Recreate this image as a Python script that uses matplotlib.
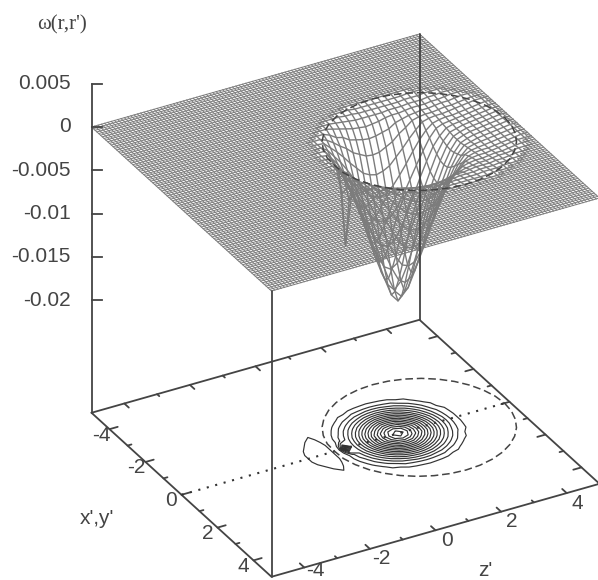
import numpy as np
import matplotlib
matplotlib.use('Agg')
import matplotlib.pyplot as plt

plt.rcParams['font.family'] = ['Liberation Sans', 'DejaVu Sans']

# axis ticks
w_ticks = [0.005, 0, -0.005, -0.01, -0.015, -0.02]
w_labels = ['0.005', '0', '-0.005', '-0.01', '-0.015', '-0.02']
x_ticks = [-4, -2, 0, 2, 4]
z_ticks = [-4, -2, 0, 2, 4]
minor_ticks = [-3, -1, 1, 3]

# mesh lines, -5..5 in both directions, every 0.1
grid_x = np.linspace(-5, 5, 101)
grid_z = np.linspace(-5, 5, 101)

# values every 0.2, in units of 1e-4, for x' >= 0 (mirrored for x' < 0)
well_x = [0, 0.2, 0.4, 0.6, 0.8, 1.0, 1.2, 1.4, 1.6, 1.8, 2.0, 2.2, 2.4]
well_z = np.linspace(-1.4, 4.8, 32)
well = [
    [0, 4, 7, 10, 11, 5, -6, -96, -35, -54, -76, -100, -125, -148, -168, -177, -168, -148, -125, -100, -76, -54, -35, -20, -10, -7, -5, -4, -3, -2, -1, 0],
    [0, 4, 7, 10, 11, 5, -4, -40, -34, -52, -74, -98, -122, -143, -160, -168, -160, -143, -122, -98, -74, -52, -34, -19, -10, -7, -5, -4, -3, -2, -1, 0],
    [0, 3, 6, 9, 10, 5, -2, -17, -30, -48, -67, -89, -110, -128, -143, -148, -143, -128, -110, -89, -67, -48, -30, -17, -9, -7, -5, -4, -3, -2, -1, 0],
    [0, 2, 4, 7, 9, 4, -1, -15, -25, -40, -57, -76, -94, -110, -122, -125, -122, -110, -94, -76, -57, -40, -25, -15, -8, -6, -5, -4, -3, -2, -1, 0],
    [0, 1, 2, 5, 7, 3, 0, -10, -19, -32, -46, -61, -76, -89, -98, -100, -98, -89, -76, -61, -46, -32, -19, -10, -7, -6, -5, -4, -3, -2, -1, 0],
    [0, 0, 1, 3, 5, 2, 0, -5, -14, -23, -34, -46, -57, -67, -74, -76, -74, -67, -57, -46, -34, -23, -14, -8, -6, -5, -5, -4, -3, -2, -1, 0],
    [0, 0, 0, 1, 2, 1, 0, -1, -8, -15, -23, -32, -40, -48, -52, -54, -52, -48, -40, -32, -23, -15, -8, -6, -5, -5, -4, -3, -2, -1, 0, 0],
    [0, 0, 0, 0, 0, 0, 0, 0, -3, -8, -14, -19, -26, -30, -34, -35, -34, -30, -26, -19, -14, -8, -6, -5, -5, -4, -3, -3, -2, -1, 0, 0],
    [0, 0, 0, 0, 0, 0, 0, 0, 0, -3, -8, -10, -15, -17, -19, -20, -19, -17, -15, -10, -8, -6, -5, -4, -4, -3, -2, -2, -1, 0, 0, 0],
    [0, 0, 0, 0, 0, 0, 0, 0, 0, 0, -2, -4, -6, -8, -9, -10, -9, -8, -6, -5, -5, -4, -3, -3, -3, -2, -2, -1, 0, 0, 0, 0],
    [0, 0, 0, 0, 0, 0, 0, 0, 0, 0, 0, -1, -2, -3, -4, -4, -4, -4, -4, -3, -3, -3, -2, -2, -2, -1, -1, 0, 0, 0, 0, 0],
    [0, 0, 0, 0, 0, 0, 0, 0, 0, 0, 0, 0, 0, -1, -1, -2, -2, -2, -2, -2, -2, -2, -1, -1, -1, 0, 0, 0, 0, 0, 0, 0],
    [0, 0, 0, 0, 0, 0, 0, 0, 0, 0, 0, 0, 0, 0, 0, -1, -1, -1, -1, -1, -1, -1, -1, 0, 0, 0, 0, 0, 0, 0, 0, 0],
]

# zero line of the surface (half of it, x' >= 0)
ring_z = [4.85, 4.81, 4.69, 4.50, 4.24, 3.92, 3.55, 3.14, 2.70, 2.25, 1.80, 1.36, 0.95, 0.58, 0.26, 0.0, -0.19, -0.31, -0.33]
ring_x = [0.0, 0.45, 0.89, 1.30, 1.67, 1.99, 2.25, 2.44, 2.56, 2.60, 2.56, 2.44, 2.25, 1.99, 1.67, 1.30, 0.89, 0.45, 0.0]

contour_levels = [-0.017, -0.016, -0.015, -0.014, -0.013, -0.012, -0.011, -0.01, -0.009,
                  -0.008, -0.007, -0.006, -0.005, -0.004, -0.003, -0.002, -0.001, 0.0005]

w_base = -0.033
w_top = 0.005

# 3D view: orthographic, screen position in pixels of the picture
def project(x, z, w=0.0):
    x = np.asarray(x, dtype=float)
    z = np.asarray(z, dtype=float)
    w = np.asarray(w, dtype=float)
    px = 345.5 + 32.8 * z + 18.0 * x
    py = 162.5 - 9.3 * z + 16.4 * x - 8660 * w
    return px, py


fig = plt.figure(figsize=(5.98, 5.80), dpi=100)
ax = fig.add_axes([0, 0, 1, 1])
ax.set_xlim(0, 598)
ax.set_ylim(580, 0)
ax.axis('off')

# build the surface: zero everywhere except the well
W = np.zeros((len(grid_x), len(grid_z)))
well = np.array(well) * 1e-4
for i, xv in enumerate(well_x):
    for j, zv in enumerate(well_z):
        ix = np.argmin(np.abs(grid_x - xv))
        iy = np.argmin(np.abs(grid_x + xv))
        iz = np.argmin(np.abs(grid_z - zv))
        W[ix, iz] = well[i, j]
        W[iy, iz] = well[i, j]

# the well is only known every 0.2, so there the mesh uses those nodes alone
near = np.zeros(W.shape, dtype=bool)
for i, j in zip(*np.nonzero(W < 0)):
    near[max(i - 2, 0):i + 3, max(j - 2, 0):j + 3] = True

XX, ZZ = np.meshgrid(grid_x, grid_z, indexing='ij')
# the small positive lobe shows only in the contours, the mesh stays flat there
PX, PY = project(XX, ZZ, np.minimum(W, 0))

mesh_color = '#7c7c7c'
n = len(grid_x)
even = np.arange(n) % 2 == 0
for i in range(n):
    ax.plot(np.where(near[i, :], np.nan, PX[i, :]), PY[i, :], color=mesh_color, lw=0.7, zorder=2)
    ax.plot(np.where(near[:, i], np.nan, PX[:, i]), PY[:, i], color=mesh_color, lw=0.7, zorder=2)
    if i % 2 == 0:
        keep = even & (near[i, :] | np.roll(near[i, :], 2) | np.roll(near[i, :], -2))
        ax.plot(PX[i, keep], PY[i, keep], color=mesh_color, lw=1.0, zorder=2)
        keep = even & (near[:, i] | np.roll(near[:, i], 2) | np.roll(near[:, i], -2))
        ax.plot(PX[keep, i], PY[keep, i], color=mesh_color, lw=1.0, zorder=2)

axis_color = '#444444'

# box lines
def line3d(x, z, w, **kw):
    px, py = project(x, z, w)
    ax.plot(px, py, color=axis_color, lw=1.3, zorder=3, solid_capstyle='round', **kw)

line3d([-5, 5, 5, -5, -5], [-5, -5, 5, 5, -5], [w_base] * 5)
line3d([-5, -5], [-5, -5], [w_base, w_top])
line3d([5, 5], [-5, -5], [w_base, 0])
line3d([-5, -5], [5, 5], [w_base, 0])

# w axis
for w, lab in zip(w_ticks, w_labels):
    px, py = project(-5, -5, w)
    ax.plot([px, px + 10], [py, py], color=axis_color, lw=1.3, zorder=3)
    ax.text(71, py, lab, ha='right', va='center', fontsize=15, color='#444444')

# x' ticks, on both side edges of the base
for t in x_ticks + minor_ticks:
    ln = 0.25 if t in x_ticks else 0.12
    line3d([t, t], [-5, -5 + ln], [w_base, w_base])
    line3d([t, t], [5, 5 - ln], [w_base, w_base])
for t in x_ticks:
    px, py = project(t, -5, w_base)
    ax.text(px - 10 - t * 0.4 * (t < 0), py + 6, str(t), ha='center', va='center', fontsize=15, color='#444444')

# z' ticks
for t in z_ticks + minor_ticks:
    ln = 0.25 if t in z_ticks else 0.12
    line3d([5, 5 - ln], [t, t], [w_base, w_base])
    line3d([-5, -5 + ln], [t, t], [w_base, w_base])
for t in z_ticks:
    px, py = project(5, t, w_base)
    ax.text(px + 11, min(py + 10, 571), str(t), ha='center', va='center', fontsize=15, color='#444444')

# dotted x'=0 line on the base
px, py = project([0, 0], [-5, 5], [w_base, w_base])
ax.plot(px, py, color='#333333', lw=1.5, ls=(0, (1, 3.2)), zorder=3)

# contours on the base, from the nodes that were read
BX, BY = project(XX, ZZ, w_base)
ax.contour(BX[::2, ::2], BY[::2, ::2], W[::2, ::2], levels=contour_levels, colors='#333333',
           linewidths=0.85, linestyles='solid', zorder=4)

# dashed zero line, on the surface and on the base
rz = np.array(ring_z + ring_z[-2::-1])
rx = np.array(ring_x + [-v for v in ring_x[-2::-1]])
for w in [0, w_base]:
    px, py = project(rx, rz, w)
    ax.plot(px, py, color='#444444', lw=1.1, ls=(0, (5, 2.5)), zorder=4)

# axis names
ax.text(62, 25, "\u03c9(r,r')", ha='center', va='center', fontsize=15, color='#444444',
        family=['Liberation Serif', 'DejaVu Serif'])
ax.text(97, 519, "x',y'", ha='center', va='center', fontsize=15, color='#444444')
ax.text(485, 570, "z'", ha='center', va='center', fontsize=15, color='#444444')

fig.savefig('out.png', dpi=100)
